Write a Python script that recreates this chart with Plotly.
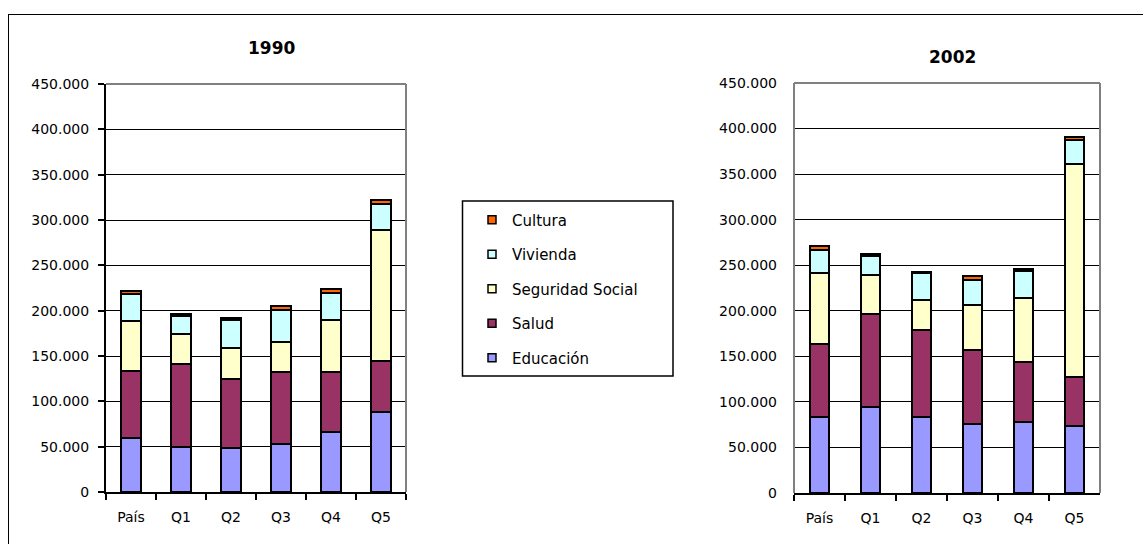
import plotly.graph_objects as go

# Categorías del eje X (país y quintiles de ingreso)
categorias = ["País", "Q1", "Q2", "Q3", "Q4", "Q5"]

# Gasto social por rubro, 1990
educacion_1990 = [60000, 50000, 48000, 53000, 66000, 88000]
salud_1990 = [74000, 91000, 77000, 79000, 66000, 57000]
seguridad_1990 = [55000, 33000, 34000, 33000, 58000, 144000]
vivienda_1990 = [29000, 20000, 31000, 36000, 30000, 29000]
cultura_1990 = [4000, 2000, 2000, 4000, 4000, 4000]

# Gasto social por rubro, 2002
educacion_2002 = [83000, 94000, 83000, 76000, 78000, 74000]
salud_2002 = [81000, 103000, 96000, 81000, 66000, 53000]
seguridad_2002 = [77000, 42000, 33000, 49000, 70000, 234000]
vivienda_2002 = [26000, 21000, 29000, 28000, 30000, 26000]
cultura_2002 = [4000, 2000, 2000, 4000, 2000, 4000]

rubros = ["Educación", "Salud", "Seguridad Social", "Vivienda", "Cultura"]
colores = ["#9999FF", "#993366", "#FFFFCC", "#CCFFFF", "#FF6600"]

W, H = 1143, 544
FONT = "'DejaVu Sans', Arial, sans-serif"


def px_x(v):
    return v / W


def px_y(v):
    return 1 - v / H


fig = go.Figure()

series = [
    ("x", "y", [educacion_1990, salud_1990, seguridad_1990, vivienda_1990, cultura_1990]),
    ("x2", "y2", [educacion_2002, salud_2002, seguridad_2002, vivienda_2002, cultura_2002]),
]
for xa, ya, valores in series:
    for nombre, color, vals in zip(rubros, colores, valores):
        fig.add_trace(go.Bar(
            x=categorias, y=vals, name=nombre, xaxis=xa, yaxis=ya,
            marker=dict(color=color, line=dict(color="black", width=2)),
            showlegend=False, legendgroup=nombre,
        ))

# Entradas de la leyenda (Cultura arriba, Educación abajo)
for nombre, color in reversed(list(zip(rubros, colores))):
    fig.add_trace(go.Scatter(
        x=[None], y=[None], mode="markers", name=nombre, legendgroup=nombre,
        marker=dict(symbol="square", size=8, color=color,
                    line=dict(color="black", width=1.5)),
        xaxis="x", yaxis="y", showlegend=True,
    ))

eje_x = dict(
    type="category", tickson="boundaries", ticks="outside", ticklen=6,
    tickwidth=2, tickcolor="black", showline=True, linecolor="black",
    linewidth=2, showgrid=False, zeroline=False, ticklabelstandoff=11,
    automargin=False, tickfont=dict(family=FONT, size=14, color="black"),
)
eje_y = dict(
    range=[0, 450000], dtick=50000, tickformat=",d", showgrid=True,
    gridcolor="black", gridwidth=1, zeroline=False, automargin=False,
    tickfont=dict(family=FONT, size=14, color="black"),
)

fig.update_layout(
    width=W, height=H,
    margin=dict(l=0, r=0, t=0, b=0, pad=0, autoexpand=False),
    paper_bgcolor="white", plot_bgcolor="white",
    barmode="stack", bargap=0.61, separators=",.",
    font=dict(family=FONT, size=14, color="black"),
    xaxis=dict(eje_x, domain=[px_x(106), px_x(406)], anchor="y"),
    yaxis=dict(eje_y, domain=[px_y(492), px_y(84)], anchor="x",
               showline=True, linecolor="black", linewidth=2,
               ticks="outside", ticklen=6, tickwidth=2, tickcolor="black",
               ticklabelstandoff=6),
    xaxis2=dict(eje_x, domain=[px_x(794), px_x(1100)], anchor="y2"),
    yaxis2=dict(eje_y, domain=[px_y(493), px_y(83)], anchor="x2",
                showline=False, ticks="", ticklabelstandoff=16),
    legend=dict(
        x=px_x(472), y=px_y(203.5), xanchor="left", yanchor="top",
        traceorder="grouped", tracegroupgap=12, bgcolor="rgba(0,0,0,0)",
        font=dict(family=FONT, size=15, color="black"),
    ),
    annotations=[
        dict(text="<b>1990</b>", x=px_x(271), y=px_y(48), xref="paper",
             yref="paper", xanchor="center", yanchor="middle", showarrow=False,
             font=dict(size=17, family=FONT)),
        dict(text="<b>2002</b>", x=px_x(952), y=px_y(57), xref="paper",
             yref="paper", xanchor="center", yanchor="middle", showarrow=False,
             font=dict(size=17, family=FONT)),
    ],
)

gris = dict(color="#808080", width=2)
shapes = [
    # Borde gris del área de trazado, 1990 (arriba y derecha)
    dict(type="line", xref="x domain", yref="y domain", x0=0, x1=1, y0=1, y1=1, line=gris),
    dict(type="line", xref="x domain", yref="y domain", x0=1, x1=1, y0=0, y1=1, line=gris),
    # Borde gris del área de trazado, 2002 (izquierda, arriba y derecha)
    dict(type="line", xref="x2 domain", yref="y2 domain", x0=0, x1=1, y0=1, y1=1, line=gris),
    dict(type="line", xref="x2 domain", yref="y2 domain", x0=1, x1=1, y0=0, y1=1, line=gris),
    dict(type="line", xref="x2 domain", yref="y2 domain", x0=0, x1=0, y0=0, y1=1, line=gris),
    # Recuadro de la leyenda
    dict(type="rect", xref="paper", yref="paper", x0=px_x(462.5), x1=px_x(673),
         y0=px_y(376), y1=px_y(201), line=dict(color="black", width=1.5)),
    # Marco exterior
    dict(type="line", xref="paper", yref="paper", x0=px_x(8), x1=1,
         y0=px_y(14.5), y1=px_y(14.5), line=dict(color="black", width=1)),
    dict(type="line", xref="paper", yref="paper", x0=px_x(8.5), x1=px_x(8.5),
         y0=px_y(14.5), y1=0, line=dict(color="black", width=1)),
]
fig.update_layout(shapes=shapes)

fig.write_html("out.html")
